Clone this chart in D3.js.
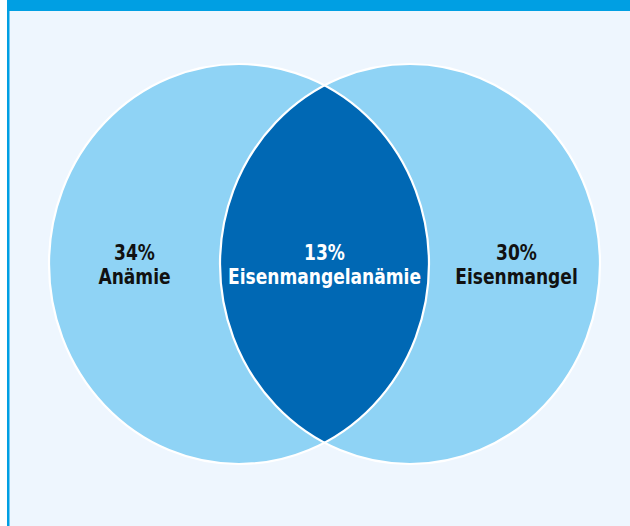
<!DOCTYPE html>
<html>
<head>
<meta charset="utf-8">
<script src="https://cdnjs.cloudflare.com/ajax/libs/d3/7.8.5/d3.min.js"></script>
<style>
  html, body { margin: 0; padding: 0; background: #ffffff; overflow: hidden; }
  svg { display: block; }
</style>
</head>
<body>
<script>
// sets of the venn diagram
var setNames = ["Anämie", "Eisenmangel"];
var setValues = [34, 30];
// overlap
var overlapName = "Eisenmangelanämie";
var overlapValue = 13;

var width = 630,
    height = 526;

// colours
var headerBlue = "#009fe3",
    panelBg = "#eef6fe",
    lightBlue = "#8fd3f5",
    darkBlue = "#0068b4";

var svg = d3.select("body").append("svg")
    .attr("width", width)
    .attr("height", height);

// panel frame and header bar
svg.append("rect")
    .attr("x", 7).attr("y", 0)
    .attr("width", width - 7).attr("height", height)
    .attr("fill", headerBlue);
svg.append("rect")
    .attr("x", 9.5).attr("y", 11)
    .attr("width", width).attr("height", height)
    .attr("fill", panelBg);

// layout: unit circles at -0.45 / +0.45 (radius 1), scaled to the panel
var xScale = d3.scaleLinear().domain([-1.45, 1.45]).range([49, 600]);
var yScale = d3.scaleLinear().domain([-1, 1]).range([64, 464]);
var centers = [-0.45, 0.45];

var rx = xScale(1) - xScale(0),
    ry = yScale(1) - yScale(0);

var g = svg.append("g");

// fills
g.selectAll("ellipse.fill")
    .data(centers)
    .enter()
    .append("ellipse")
        .attr("class", "fill")
        .attr("cx", function(d) { return xScale(d); })
        .attr("cy", yScale(0))
        .attr("rx", rx)
        .attr("ry", ry)
        .attr("fill", lightBlue);

// lens (intersection)
var dx = (xScale(centers[1]) - xScale(centers[0])) / 2;
var ix = (xScale(centers[0]) + xScale(centers[1])) / 2;
var iy = ry * Math.sqrt(1 - (dx / rx) * (dx / rx));
var lens = "M" + ix + "," + (yScale(0) - iy) +
    " A" + rx + "," + ry + " 0 0,1 " + ix + "," + (yScale(0) + iy) +
    " A" + rx + "," + ry + " 0 0,1 " + ix + "," + (yScale(0) - iy) + "Z";
g.append("path")
    .attr("d", lens)
    .attr("fill", darkBlue);

// white outlines
g.selectAll("ellipse.outline")
    .data(centers)
    .enter()
    .append("ellipse")
        .attr("class", "outline")
        .attr("cx", function(d) { return xScale(d); })
        .attr("cy", yScale(0))
        .attr("rx", rx)
        .attr("ry", ry)
        .attr("fill", "none")
        .attr("stroke", "#ffffff")
        .attr("stroke-width", 2.2);

// labels
var labels = [
    { x: (xScale(centers[0]) - rx + xScale(centers[1]) - rx) / 2, name: setNames[0], value: setValues[0], color: "#111111" },
    { x: ix, name: overlapName, value: overlapValue, color: "#ffffff" },
    { x: (xScale(centers[0]) + rx + xScale(centers[1]) + rx) / 2 + 2, name: setNames[1], value: setValues[1], color: "#111111" }
];

var font = "'Liberation Sans Narrow', 'DejaVu Sans Condensed', 'Roboto Condensed', sans-serif";

var lab = g.selectAll("g.label")
    .data(labels)
    .enter()
    .append("g")
        .attr("class", "label");

function addLine(y, fn) {
    return lab.append("text")
        .attr("x", 0)
        .attr("y", y)
        .attr("text-anchor", "middle")
        .attr("fill", function(d) { return d.color; })
        .style("font-family", font)
        .style("font-weight", "bold")
        .style("font-stretch", "condensed")
        .style("font-size", "20.5px")
        .text(fn);
}

addLine(260.5, function(d) { return d.value + "%"; });
var names = addLine(284, function(d) { return d.name; });

// squeeze the labels horizontally so the overlap label is ~193px wide, like a condensed face
var mid = names.filter(function(d) { return d.name === overlapName; }).node();
var k = 193 / mid.getComputedTextLength();
lab.attr("transform", function(d) { return "translate(" + d.x + ",0) scale(" + k + ",1)"; });
</script>
</body>
</html>
